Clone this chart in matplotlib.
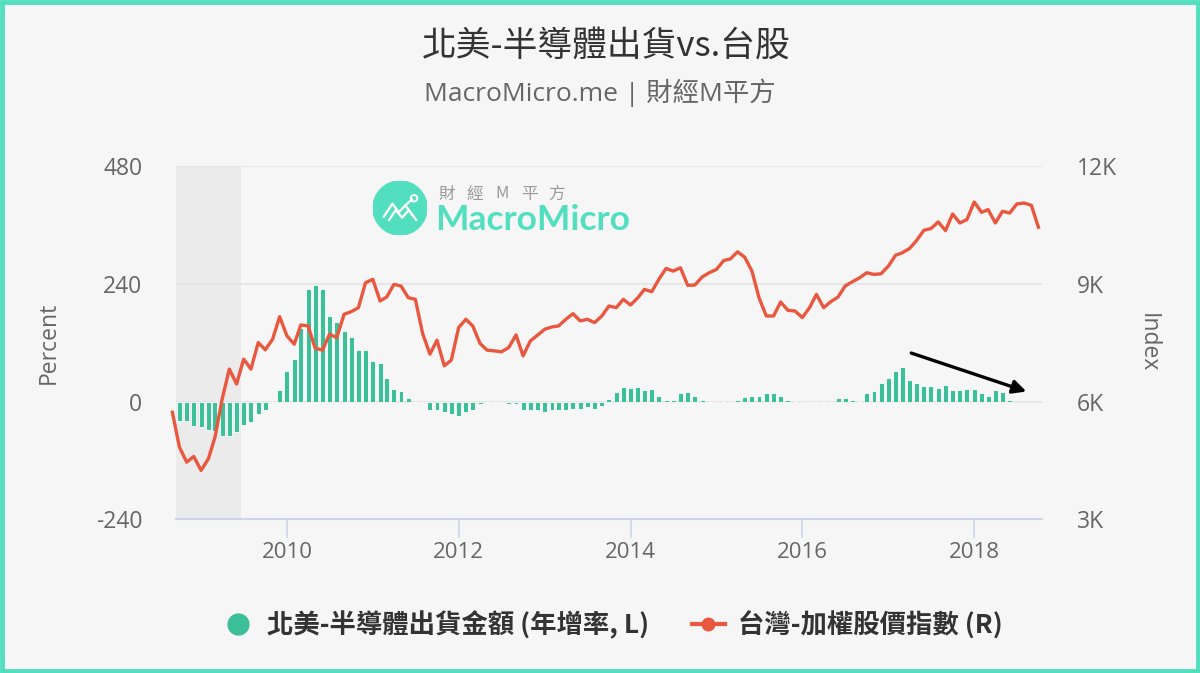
import matplotlib
matplotlib.use("Agg")
import matplotlib.pyplot as plt
import matplotlib.dates as mdates
from matplotlib.lines import Line2D
from matplotlib.patches import Circle, Rectangle
import numpy as np
import pandas as pd
from datetime import datetime

plt.rcParams['font.family'] = ['Open Sans', 'Noto Sans CJK TC', 'DejaVu Sans']

# -----------------------------------------------------------
# datos mensuales: sep 2008 -> oct 2018
# -----------------------------------------------------------
months = pd.date_range('2008-09-01', periods=122, freq='MS')

# 台灣-加權股價指數 (R)
taiex = [
    5728, 4839, 4457, 4602, 4246, 4543, 5093, 6076, 6831, 6450, 7085, 6831,
    7508, 7322, 7593, 8168, 7678, 7466, 7957, 7932, 7365, 7314, 7720, 7635,
    8229, 8295, 8398, 9034, 9119, 8568, 8669, 8992, 8949, 8652, 8610, 7737,
    7212, 7568, 6915, 7060, 7890, 8102, 7932, 7483, 7314, 7296, 7271, 7381,
    7703, 7169, 7550, 7694, 7847, 7906, 7932, 8102, 8245, 8059, 8102, 8017,
    8186, 8440, 8398, 8610, 8466, 8652, 8864, 8805, 9119, 9398, 9331, 9415,
    8966, 8975, 9178, 9288, 9373, 9600, 9640, 9822, 9686, 9331, 8652, 8186,
    8186, 8542, 8330, 8313, 8144, 8398, 8737, 8398, 8550, 8669, 8949, 9059,
    9161, 9288, 9246, 9263, 9457, 9737, 9796, 9907, 10111, 10372, 10415, 10584,
    10364, 10787, 10558, 10644, 11092, 10830, 10898, 10558, 10856, 10813, 11042, 11067,
    11008, 10449,
]

# 北美-半導體出貨金額 (年增率, L)  -> None = sin dato
ship_yoy = [
    None, -40, -40, -49, -52, -57, -60, -70, -70, -62, -47, -41,
    -25, -16, 0, 23, 62, 87, 150, 229, 238, 229, 175, 163,
    144, 131, 106, 106, 83, 79, 48, 26, 22, 7, 0, 0,
    -16, -17, -21, -26, -30, -21, -18, -5, 0, 0, 0, -4,
    -4, -18, -18, -17, -21, -18, -18, -18, -15, -14, -11, -14,
    -8, 5, 19, 30, 28, 30, 24, 25, 12, 4, 4, 18,
    20, 11, 4, 0, 0, 0, 0, 4, 9, 12, 12, 18,
    18, 12, 4, 0, 0, 0, 0, 0, 0, 8, 8, 3,
    0, 18, 22, 39, 48, 62, 70, 45, 39, 31, 31, 27,
    35, 23, 23, 26, 26, 18, 12, 23, 19, 4, None, None,
    None, None,
]

year_ticks = [2010, 2012, 2014, 2016, 2018]
left_ticks = [-240, 0, 240, 480]
right_ticks = [3000, 6000, 9000, 12000]
right_labels = ['3K', '6K', '9K', '12K']

GREEN = '#3dbf9a'
RED = '#e9573f'
TEAL = '#52dfc0'
BG = '#f6f6f6'
W, H = 1200, 673

x = mdates.date2num(months.to_pydatetime())
bx = np.array([xi for xi, v in zip(x, ship_yoy) if v is not None])
bv = np.array([v for v in ship_yoy if v is not None], dtype=float)

fig = plt.figure(figsize=(12, 6.73), dpi=100, facecolor=BG)
ax = fig.add_axes([0.1464, 0.2284, 0.7219, 0.5243])
ax.set_facecolor(BG)
ax2 = ax.twinx()
ax2.patch.set_visible(False)

x_left = mdates.date2num(datetime(2008, 9, 15))
x_right = mdates.date2num(datetime(2018, 10, 16))
shade_end = mdates.date2num(datetime(2009, 6, 18))

# recesion sombreada
ax.axvspan(x_left, shade_end, color='#ebebeb', zorder=0, lw=0)

ax.bar(bx, bv, width=21, color=GREEN, edgecolor='white', linewidth=0.6, zorder=2)
ax2.plot(x, taiex, color=RED, lw=2.4, zorder=3, clip_on=False, solid_joinstyle='round')

ax.set_xlim(x_left, x_right)
ax.set_ylim(-240, 480)
ax2.set_ylim(3000, 12000)

ax.set_yticks(left_ticks)
ax.set_yticklabels([str(t) for t in left_ticks])
ax2.set_yticks(right_ticks)
ax2.set_yticklabels(right_labels)

ax.set_xticks([mdates.date2num(datetime(y, 1, 1)) for y in year_ticks])
ax.set_xticklabels([str(y) for y in year_ticks])

ax.grid(axis='y', color='#e3e3e3', lw=1.2, zorder=1)
ax.set_axisbelow(True)

for a in (ax, ax2):
    for s in ('top', 'left', 'right', 'bottom'):
        a.spines[s].set_visible(False)
ax.spines['bottom'].set_visible(True)
ax.spines['bottom'].set_color('#ccd6eb')
ax.spines['bottom'].set_linewidth(1.5)

ax.tick_params(axis='x', colors='#ccd6eb', length=14, width=1.2, labelcolor='#666666',
               labelsize=16, pad=2)
ax.tick_params(axis='y', length=0, labelcolor='#666666', labelsize=16.5, pad=24)
ax2.tick_params(axis='y', length=0, labelcolor='#666666', labelsize=16.5, pad=25)

ax.set_ylabel('Percent', color='#666666', fontsize=16.5)
ax.yaxis.set_label_coords((61 - 175.7) / 866.3, 0.5)
ax2.set_ylabel('Index', color='#666666', fontsize=16.5, rotation=270, va='center')
ax2.yaxis.set_label_coords((1148 - 175.7) / 866.3, 0.5)

# flecha de tendencia
ax.annotate('', xy=(mdates.date2num(datetime(2018, 8, 22)), 19),
            xytext=(mdates.date2num(datetime(2017, 3, 28)), 101),
            arrowprops=dict(arrowstyle='-|>', color='black', lw=2.4, mutation_scale=20),
            zorder=5)

# titulos
fig.text(0.505, 1 - 46 / H, '北美-半導體出貨vs.台股', ha='center', va='center',
         fontsize=25, color='#333333', family=['Noto Sans CJK TC'])
fig.text(0.5, 1 - 93 / H, 'MacroMicro.me | 財經M平方', ha='center', va='center',
         fontsize=19, color='#666666', family=['Open Sans', 'Noto Sans CJK TC'])

# marca de agua
logo = fig.add_axes([373 / W, 1 - 235 / H, 54 / W, 54 / H])
logo.set_xlim(0, 1)
logo.set_ylim(0, 1)
logo.axis('off')
logo.add_patch(Circle((0.5, 0.5), 0.5, color=TEAL))
logo.plot([0.2, 0.36, 0.48, 0.6, 0.74], [0.34, 0.58, 0.42, 0.55, 0.36], color='white', lw=1.6)
logo.plot([0.3, 0.42, 0.54, 0.66, 0.8], [0.28, 0.46, 0.32, 0.46, 0.28], color='white', lw=1.6)
logo.plot([0.6, 0.72], [0.55, 0.66], color='white', lw=1.6)
logo.add_patch(Circle((0.76, 0.68), 0.06, fill=False, ec='white', lw=1.4))
for k, ch in enumerate('財經M平方'):
    fig.text((447 + 27.5 * k) / W, 1 - 194 / H, ch, ha='center', va='center', fontsize=12,
             color='#9a9a9a', family=['Noto Sans CJK TC'])
fig.text(435 / W, 1 - 220 / H, 'MacroMicro', ha='left', va='center', fontsize=25.5,
         color=TEAL, fontweight='bold', family=['Lato'])

# leyenda
handles = [
    Line2D([], [], ls='none', marker='o', markersize=15, color=GREEN),
    Line2D([], [], color=RED, lw=3, marker='o', markersize=9),
]
labels = ['北美-半導體出貨金額 (年增率, L)', '台灣-加權股價指數 (R)']
fig.legend(handles, labels, loc='center', bbox_to_anchor=(0.51, 1 - 625 / H), ncol=2,
           frameon=False, columnspacing=1.6, handlelength=1.25, handletextpad=0.5,
           prop=dict(family=['Noto Sans CJK TC'], weight='bold', size=19))
for t in fig.legends[0].get_texts():
    t.set_color('#333333')

# borde
fig.patches.append(Rectangle((0.0015, 0.0025), 0.997, 0.995, transform=fig.transFigure,
                             fill=False, ec=TEAL, lw=3.5, zorder=10))

fig.savefig('out.png', dpi=100, facecolor=BG)
